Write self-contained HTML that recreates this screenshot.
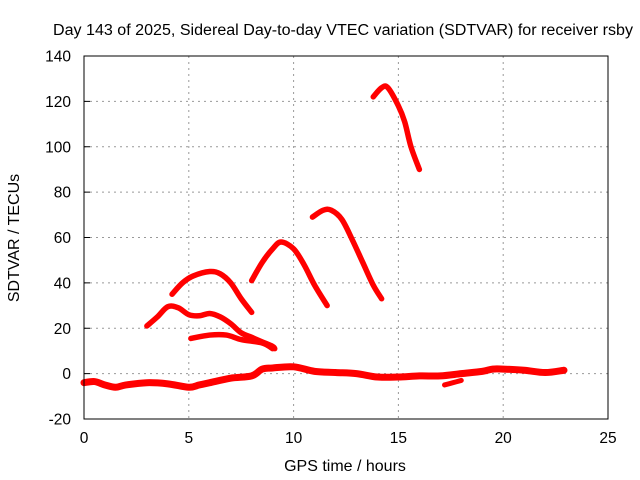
<!DOCTYPE html>
<html><head><meta charset="utf-8"><style>
body{margin:0;background:#fff}
svg{display:block;font-family:"Liberation Sans",sans-serif}
</style></head><body>
<svg id="chart" width="640" height="480" viewBox="0 0 640 480">
<text x="343" y="35" text-anchor="middle" font-size="15.5" textLength="580" lengthAdjust="spacingAndGlyphs">Day 143 of 2025, Sidereal Day-to-day VTEC variation (SDTVAR) for receiver rsby</text>
<g id="grid"></g>
<g id="ticks"></g>
<g id="series"></g>
<rect x="84" y="56" width="524" height="363" fill="none" stroke="#000" stroke-width="1"/>
<text x="345" y="471" text-anchor="middle" font-size="16">GPS time / hours</text>
<text x="19" y="238" text-anchor="middle" font-size="16" transform="rotate(-90 19 238)">SDTVAR / TECUs</text>
</svg>
<script>
const xTicks=[0,5,10,15,20,25];
const yTicks=[-20,0,20,40,60,80,100,120,140];
const arcA=[[3,21],[3.5,25],[4,29.5],[4.5,29],[5,26],[5.5,25.5],[6,26.5],[6.5,25],[7,22],[7.5,18],[8,16],[8.5,14],[9,12],[9.1,11]];
const arcB=[[5.1,15.5],[6,17],[6.8,17],[7.5,15],[8.5,13.5],[9,11]];
const arcC=[[4.2,35],[4.7,40],[5.2,43],[6,45],[6.5,44],[7,40],[7.5,33],[8,27]];
const arcD=[[8,41],[8.5,49],[9,55],[9.4,58],[10,55],[10.5,48],[11,39],[11.6,30]];
const arcE=[[10.9,69],[11.4,72],[11.8,72],[12.3,68],[12.8,59],[13.3,49],[13.8,39],[14.2,33]];
const arcF=[[13.8,122],[14.2,126],[14.5,126],[15,118],[15.3,111],[15.6,100],[16,90]];
const base=[[0,-4],[0.5,-3.5],[1,-5],[1.5,-6],[2,-5],[3,-4],[4,-4.5],[5,-6],[5.5,-5],[6,-4],[7,-2],[8,-1],[8.5,2],[9,2.5],[10,3],[11,1],[12,0.5],[13,0],[14,-1.5],[15,-1.5],[16,-1],[17,-1],[18,0],[19,1],[19.5,2],[20,2],[21,1.5],[22,0.5],[22.9,1.5]];
const baseTail=[[17.2,-5],[17.6,-4],[18,-3]];
const X=v=>84+v*524/25, Y=v=>419-(v+20)*363/160;
const NS="http://www.w3.org/2000/svg";
const g=document.getElementById('grid'),t=document.getElementById('ticks'),s=document.getElementById('series');
function mk(tag,a,p){const e=document.createElementNS(NS,tag);for(const k in a)e.setAttribute(k,a[k]);p.appendChild(e);return e;}
xTicks.forEach(v=>{
 if(v>0&&v<25){const l=mk('line',{x1:X(v),x2:X(v),y1:56,y2:419,stroke:'#999','stroke-dasharray':'2,4'},g);
 
 }
 const tx=mk('text',{x:X(v),y:443,'text-anchor':'middle','font-size':'15.5'},t);tx.textContent=v;
 
 
});
yTicks.forEach(v=>{
 if(v>-20&&v<140){const l=mk('line',{x1:84,x2:608,y1:Y(v),y2:Y(v),stroke:'#999','stroke-dasharray':'2,4'},g);
 
 }
 mk('line',{x1:84,x2:90,y1:Y(v),y2:Y(v),stroke:'#000'},t);
 const tx=mk('text',{x:71,y:Y(v)+5.5,'text-anchor':'end','font-size':'15.5'},t);tx.textContent=v;
 
 
});
function smooth(d){
 const P=d.map(q=>[X(q[0]),Y(q[1])]);
 let s='M'+P[0][0]+','+P[0][1];
 for(let i=0;i<P.length-1;i++){
  const p0=P[Math.max(i-1,0)],p1=P[i],p2=P[i+1],p3=P[Math.min(i+2,P.length-1)];
  const c1=[p1[0]+(p2[0]-p0[0])/6,p1[1]+(p2[1]-p0[1])/6];
  const c2=[p2[0]-(p3[0]-p1[0])/6,p2[1]-(p3[1]-p1[1])/6];
  s+=' C'+c1+' '+c2+' '+p2;
 }
 return s;
}
[[base,7],[baseTail,5],[arcA,5.5],[arcB,5.5],[arcC,5.5],[arcD,5.5],[arcE,5.5],[arcF,5.5]].forEach(([d,w])=>{
 const p=mk('path',{d:smooth(d),fill:'none',stroke:'#f00','stroke-width':w,'stroke-linejoin':'round','stroke-linecap':'round'},s);
 
 
});
</script>
</body></html>
